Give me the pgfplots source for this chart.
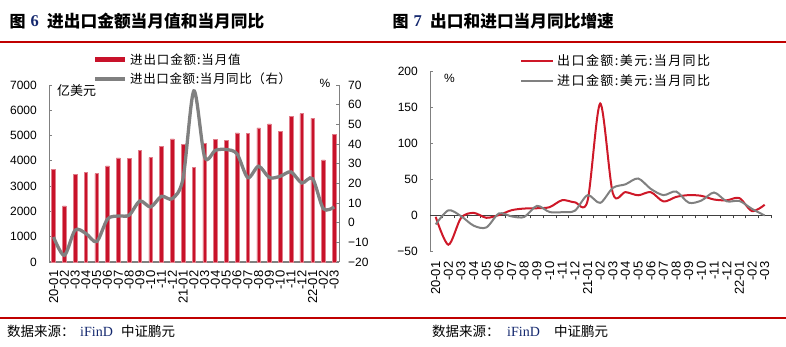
\documentclass[border=0pt]{standalone}
\usepackage{pgfplots}
\pgfplotsset{compat=1.18}
\usepackage{pgfplotstable}
\usepackage{fontspec}
\setmainfont{Liberation Sans}
\newfontfamily\cjk{Noto Sans CJK SC}
\newfontfamily\tms{Liberation Serif}
\newcommand\fs[1]{\fontsize{#1}{#1}\selectfont}
\definecolor{barred}{RGB}{200,18,42}
\definecolor{linered}{RGB}{206,24,40}
\definecolor{lgray}{RGB}{128,128,128}
\definecolor{rulered}{RGB}{192,0,0}
\definecolor{ifblue}{RGB}{20,40,110}

\pgfplotstableread{
x val yoy
0 3670 -7.3
1 2220 -16.6
2 3470 -3.8
3 3530 -5.5
4 3500 -9.6
5 3800 1.8
6 4120 3.4
7 4110 3.8
8 4410 11.0
9 4130 8.0
10 4580 13.4
11 4870 12.2
12 4650 22.5
13 3730 67.0
14 4690 33.4
15 4850 36.8
16 4810 37.2
17 5110 35.0
18 5090 22.9
19 5300 28.7
20 5460 22.9
21 5170 23.6
22 5770 25.8
23 5870 20.2
24 5680 22.4
25 4040 7.1
26 5050 8.0
}\lefttab

\pgfplotstableread{
x ex im
0 -2 -12.5
1 -40.6 7
2 -3.5 -1
3 3.5 -14.2
4 -3.3 -16.7
5 0.5 2.7
6 7.2 -1.4
7 9.5 -2.1
8 9.9 13.2
9 11.4 4.7
10 21.1 4.5
11 18.1 6.5
12 20 28
13 154.9 17.3
14 30.6 38.1
15 32.3 43.1
16 27.9 51.1
17 32.2 36.7
18 19.3 28.1
19 25.6 33.1
20 28.1 17.6
21 27.1 20.6
22 22 31.7
23 20.9 19.5
24 24 20
25 6 9
26 14.7 -0.1
}\righttab

\def\months{20-01,-02,-03,-04,-05,-06,-07,-08,-09,-10,-11,-12,21-01,-02,-03,-04,-05,-06,-07,-08,-09,-10,-11,-12,22-01,-02,-03}

\begin{document}
\begin{tikzpicture}
\path[use as bounding box] (0,0) rectangle (786pt,346pt);

% rules
\draw[rulered, line width=2pt] (0,304.3pt) -- (786pt,304.3pt);
\draw[rulered, line width=2pt] (0,27.6pt) -- (786pt,27.6pt);

% titles
\node[anchor=west, inner sep=0pt] at (9.5pt,324.5pt) {\cjk\bfseries\fs{16pt}图};
\node[anchor=west, inner sep=0pt] at (30.5pt,324.5pt) {\tms\bfseries\fs{16.5pt}\color{ifblue}6};
\node[anchor=west, inner sep=0pt] at (47pt,324.5pt) {\cjk\bfseries\fs{16.7pt}进出口金额当月值和当月同比};
\node[anchor=west, inner sep=0pt] at (392.5pt,324.5pt) {\cjk\bfseries\fs{16pt}图};
\node[anchor=west, inner sep=0pt] at (413.5pt,324.5pt) {\tms\bfseries\fs{16.5pt}\color{ifblue}7};
\node[anchor=west, inner sep=0pt] at (430pt,324.5pt) {\cjk\bfseries\fs{16.7pt}出口和进口当月同比增速};

% ---------- left panel ----------
\begin{axis}[
  at={(49pt,84pt)}, anchor=south west,
  scale only axis, width=290pt, height=177pt,
  xmin=-0.42, xmax=26.45, ymin=0, ymax=7000,
  axis x line*=bottom, axis y line*=left,
  x axis line style={lgray, line width=1.6pt},
  y axis line style={lgray, line width=1pt},
  xtick={0,...,26}, xticklabels/.expand once={\months},
  xtick style={draw=none},
  ytick={0,1000,...,7000},
  yticklabels={0,1000,2000,3000,4000,5000,6000,7000},
  ytick style={lgray, line width=0.8pt},
  tick align=inside, major tick length=3pt,
  yticklabel style={font=\fs{12pt}, inner sep=0pt, anchor=east},
  yticklabel shift=12pt,
  xticklabel style={font=\fs{13pt}, rotate=90, anchor=east, inner sep=0pt},
  xticklabel shift=8.5pt,
  clip=false,
]
\addplot[ybar, bar width=3.6pt, fill=barred, draw=barred!55!white, line width=0.5pt] table[x=x, y=val]{\lefttab};
\end{axis}

\begin{axis}[
  at={(49pt,84pt)}, anchor=south west,
  scale only axis, width=290pt, height=177pt,
  xmin=-0.42, xmax=26.45, ymin=-20, ymax=70,
  axis x line=none, axis y line*=right,
  y axis line style={lgray, line width=1pt},
  ytick={-20,-10,...,70},
  yticklabels={−20,−10,0,10,20,30,40,50,60,70},
  ytick style={lgray, line width=0.8pt},
  tick align=inside, major tick length=3pt,
  yticklabel style={font=\fs{12pt}, inner sep=0pt, anchor=west},
  yticklabel shift=9pt,
  clip=false,
]
\addplot[lgray, line width=3.3pt, smooth, tension=0.5] table[x=x, y=yoy]{\lefttab};
\end{axis}

% left legend and unit labels
\fill[barred] (95pt,283.5pt) rectangle (125pt,288.5pt);
\node[anchor=west, inner sep=0pt] at (130pt,286pt) {\cjk\fs{12.5pt}\addfontfeature{LetterSpace=7}进出口金额:当月值};
\draw[lgray, line width=3.5pt] (95pt,267pt) -- (125pt,267pt);
\node[anchor=west, inner sep=0pt] at (130pt,267pt) {\cjk\fs{12.5pt}\addfontfeature{LetterSpace=5}进出口金额:当月同比（右）};
\node[anchor=west, inner sep=0pt] at (57pt,255.5pt) {\cjk\fs{13pt}亿美元};
\node[anchor=center, inner sep=0pt] at (325pt,263pt) {\fs{12pt}\%};

% ---------- right panel ----------
\begin{axis}[
  at={(430pt,94.5pt)}, anchor=south west,
  scale only axis, width=341pt, height=180.5pt,
  xmin=-0.45, xmax=26.5, ymin=-50, ymax=200,
  axis x line=none, axis y line*=left,
  y axis line style={lgray, line width=1pt},
  ytick={-50,0,50,100,150,200},
  yticklabels={−50,0,50,100,150,200},
  ytick style={lgray, line width=0.8pt},
  tick align=inside, major tick length=3pt,
  yticklabel style={font=\fs{12pt}, inner sep=0pt, anchor=east},
  yticklabel shift=12pt,
  clip=false,
]
\end{axis}

\begin{axis}[
  at={(430pt,94.5pt)}, anchor=south west,
  scale only axis, width=341pt, height=180.5pt,
  xmin=-0.45, xmax=26.5, ymin=-50, ymax=200,
  axis x line*=bottom, axis y line=none,
  x axis line style={draw=none},
  xtick={0,...,26}, xticklabels/.expand once={\months},
  xtick style={draw=none},
  xticklabel style={font=\fs{13pt}, rotate=90, anchor=east, inner sep=0pt},
  xticklabel shift=10pt,
  clip=false,
]
\end{axis}

\begin{axis}[
  at={(430pt,94.5pt)}, anchor=south west,
  scale only axis, width=341pt, height=180.5pt,
  xmin=-0.45, xmax=26.5, ymin=-50, ymax=200,
  axis x line=middle, axis y line=none,
  x axis line style={black!75, line width=1pt, -},
  xtick={0.5,1.5,...,26.5}, xticklabels={},
  xtick style={black!75, line width=0.8pt},
  tick align=outside, major tick length=3pt,
  clip=false,
]
\addplot[linered, line width=2pt, smooth, tension=0.5] table[x=x, y=ex]{\righttab};
\addplot[lgray, line width=2pt, smooth, tension=0.5] table[x=x, y=im]{\righttab};
\end{axis}

% right legend and unit
\draw[linered, line width=2.2pt] (521pt,285pt) -- (553pt,285pt);
\node[anchor=west, inner sep=0pt] at (557pt,285pt) {\cjk\fs{13pt}\addfontfeature{LetterSpace=11}出口金额:美元:当月同比};
\draw[lgray, line width=2.2pt] (521pt,265pt) -- (553pt,265pt);
\node[anchor=west, inner sep=0pt] at (557pt,265pt) {\cjk\fs{13pt}\addfontfeature{LetterSpace=11}进口金额:美元:当月同比};
\node[anchor=center, inner sep=0pt] at (449.5pt,268pt) {\fs{12pt}\%};

% sources
\node[anchor=west, inner sep=0pt] at (7pt,14.5pt) {\cjk\fs{13.5pt}数据来源：};
\node[anchor=west, inner sep=0pt] at (80pt,14.5pt) {\tms\fs{14pt}\color{ifblue}iFinD};
\node[anchor=west, inner sep=0pt] at (121pt,14.5pt) {\cjk\fs{13.5pt}中证鹏元};
\node[anchor=west, inner sep=0pt] at (432pt,14.5pt) {\cjk\fs{13.5pt}数据来源：};
\node[anchor=west, inner sep=0pt] at (507pt,14.5pt) {\tms\fs{14pt}\color{ifblue}iFinD};
\node[anchor=west, inner sep=0pt] at (554pt,14.5pt) {\cjk\fs{13.5pt}中证鹏元};
\end{tikzpicture}
\end{document}
